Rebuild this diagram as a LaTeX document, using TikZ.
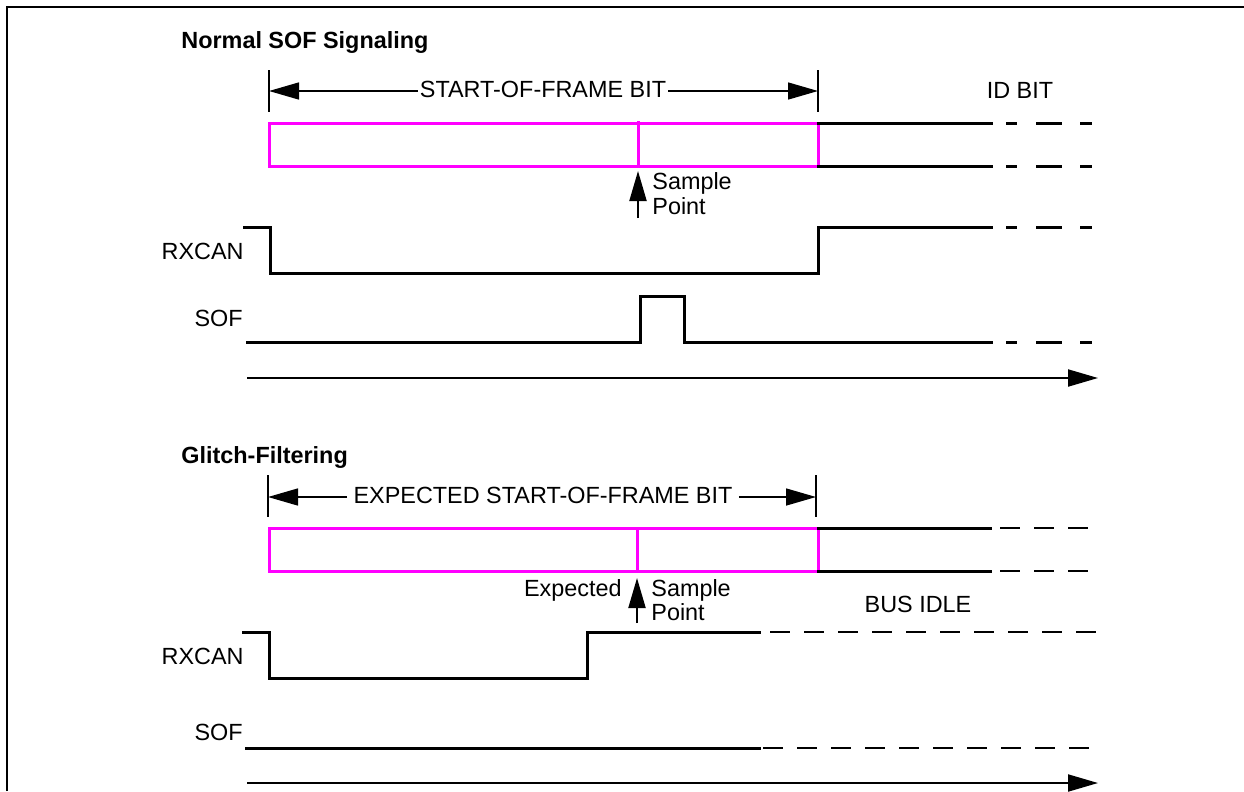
\documentclass[tikz,border=0pt]{standalone}
\usepackage{fontspec}
\setmainfont{Liberation Sans}
\usepackage{xcolor}
\usepackage{tikz}
\usetikzlibrary{arrows.meta,calc}
\definecolor{bitmagenta}{RGB}{255,0,255}

\begin{document}
\begin{tikzpicture}[x=0.5bp, y=-0.5bp,
		>={Triangle[length=15bp,width=8.5bp]},
		lbl/.style={inner sep=0pt, font=\fontsize{11.7bp}{12.5bp}\selectfont},
		ttl/.style={lbl, font=\fontsize{11.7bp}{12.5bp}\selectfont\bfseries},
		sig/.style={line width=1.5bp, line cap=rect},
		bitbox/.style={line width=1.5bp, draw=bitmagenta},
		thin/.style={line width=0.75bp},
		idash/.style={line width=1.5bp, dash pattern=on 5.5bp off 9.5bp on 13bp off 9bp on 6bp off 60bp},
		ldash/.style={line width=1.2bp, dash pattern=on 10bp off 7bp}]
		\useasboundingbox (0,0) rectangle (1244,791);
		\draw[line width=1.2bp] (7,791) -- (7,7) -- (1244,7);

		% normal SOF signaling
		\node[ttl, anchor=base west] (title1) at (181,48) {Normal SOF Signaling};
		\coordinate (dimTL) at (269,91);
		\coordinate (dimTR) at (818,91);
		\draw[thin] (269,70) -- (269,112);
		\draw[thin] (818,70) -- (818,112);
		\node[lbl, anchor=base, inner xsep=1bp] (sofbit) at (543,97) {START-OF-FRAME BIT};
		\draw[thin,->] (dimTL -| sofbit.west) -- (dimTL);
		\draw[thin,->] (dimTR -| sofbit.east) -- (dimTR);
		\node[lbl, anchor=base] (idbit) at (1020,98) {ID BIT};

		\draw[bitbox] (269,123) rectangle (818,166);
		\draw[bitbox] (638,121) -- (638,166);
		\draw[sig] (818,123) -- (991,123);
		\draw[sig] (818,166) -- (991,166);
		\draw[idash] (1006,123) -- (1092,123);
		\draw[idash] (1006,166) -- (1092,166);

		\coordinate (spA) at (638,218);
		\coordinate (spB) at (638,171);
		\draw[line width=1bp,->] (spA) -- (spB);
		\node[lbl, anchor=base west] (sample1) at (652,189) {Sample};
		\node[lbl, anchor=base west] (point1) at (652,214) {Point};

		\node[lbl, anchor=base east] (rxcan1) at (244,259) {RXCAN};
		\draw[sig] (rxcan1.north east |- 0,227) -| (270,273) -| (818,227) -- (991,227);
		\draw[idash] (1006,227) -- (1092,227);

		\node[lbl, anchor=base east] (sof1) at (243,326) {SOF};
		\draw[sig] (247,342) -| (640,296) -| (684,342) -- (991,342);
		\draw[idash] (1006,342) -- (1092,342);

		\coordinate (timeA) at (247,378);
		\coordinate (timeB) at (1098,378);
		\draw[line width=1bp,->] (timeA) -- (timeB);

		% glitch filtering
		\node[ttl, anchor=base west] (title2) at (181,463) {Glitch-Filtering};
		\coordinate (dimBL) at (268,497);
		\coordinate (dimBR) at (816,497);
		\draw[thin] (268,475) -- (268,517);
		\draw[thin] (816,475) -- (816,517);
		\node[lbl, anchor=base, inner xsep=3bp] (expbit) at (543,503) {EXPECTED START-OF-FRAME BIT};
		\draw[thin,->] (dimBL -| expbit.west) -- (dimBL);
		\draw[thin,->] (dimBR -| expbit.east) -- (dimBR);

		\draw[bitbox] (269,528) rectangle (818,571);
		\draw[bitbox] (637,528) -- (637,571);
		\draw[sig] (818,528) -- (990,528);
		\draw[sig] (818,571) -- (990,571);
		\draw[ldash] (1000,528) -- (1097,528);
		\draw[ldash] (1000,571) -- (1097,571);

		\coordinate (epA) at (637,623);
		\coordinate (epB) at (637,578);
		\draw[line width=1bp,->] (epA) -- (epB);
		\node[lbl, anchor=base east] (expected) at (622,596) {Expected};
		\node[lbl, anchor=base west] (sample2) at (651,596) {Sample};
		\node[lbl, anchor=base west] (point2) at (651,620) {Point};
		\node[lbl, anchor=base] (busidle) at (918,612) {BUS IDLE};

		\node[lbl, anchor=base east] (rxcan2) at (244,664) {RXCAN};
		\draw[sig] (243,632) -| (269,678) -| (587,632) -- (759,632);
		\draw[ldash] (770,632) -- (1100,632);

		\node[lbl, anchor=base east] (sof2) at (243,740) {SOF};
		\draw[sig] (246,748) -- (759,748);
		\draw[ldash] (763,748) -- (1100,748);

		\coordinate (timeC) at (247,783);
		\coordinate (timeD) at (1098,783);
		\draw[line width=1bp,->] (timeC) -- (timeD);
	\end{tikzpicture}
\end{document}
